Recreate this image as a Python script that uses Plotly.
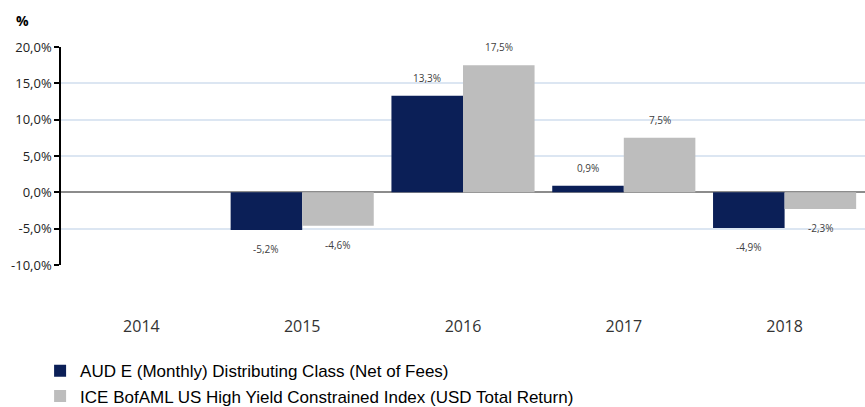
import plotly.graph_objects as go

years = ["2014", "2015", "2016", "2017", "2018"]
fund = [None, -5.2, 13.3, 0.9, -4.9]
index = [None, -4.6, 17.5, 7.5, -2.3]
fund_name = "AUD E (Monthly) Distributing Class (Net of Fees)"
index_name = "ICE BofAML US High Yield Constrained Index (USD Total Return)"
tick_vals = [-10, -5, 0, 5, 10, 15, 20]
tick_text = ["-10,0%", "-5,0%", "0,0%", "5,0%", "10,0%", "15,0%", "20,0%"]

navy = "#0b1f57"
grey = "#bdbdbd"

fig = go.Figure()
fig.add_bar(x=years, y=fund, name=fund_name, marker_color=navy, marker_line_width=0)
fig.add_bar(x=years, y=index, name=index_name, marker_color=grey, marker_line_width=0)

def fmt(v):
    return ("%.1f" % v).replace(".", ",") + "%"

for series, shift in ((fund, -36), (index, 36)):
    for i, v in enumerate(series):
        if v is None:
            continue
        fig.add_annotation(x=i, y=v, xref="x", yref="y", text=fmt(v), showarrow=False,
                           xshift=shift, yshift=18 if v >= 0 else -19,
                           font=dict(family="Open Sans, Liberation Sans", size=10, color="#404040"))

fig.add_annotation(text="<b>%</b>", xref="paper", yref="paper", x=-0.048, y=1.12,
                   xanchor="center", yanchor="middle", showarrow=False,
                   font=dict(family="Open Sans, Liberation Sans", size=14, color="#000"))

fig.update_layout(
    width=865, height=407,
    margin=dict(l=61, r=0, t=47, b=142, autoexpand=False),
    paper_bgcolor="white", plot_bgcolor="white",
    barmode="group", bargap=0.11, bargroupgap=0,
    showlegend=True,
    legend=dict(orientation="v", x=-0.026, y=-0.405, xanchor="left", yanchor="top",
                font=dict(family="Liberation Sans, Arial", size=17, color="#000"),
                itemwidth=30, tracegroupgap=0, bgcolor="rgba(0,0,0,0)"),
    xaxis=dict(type="category", range=[-0.5, 4.5], showline=False, ticks="", showgrid=False,
               tickfont=dict(family="Open Sans, Liberation Sans", size=16, color="#333"),
               ticklabelstandoff=50),
    yaxis=dict(range=[-10, 20], tickvals=tick_vals, ticktext=tick_text,
               showline=True, linecolor="#000", linewidth=1.5,
               ticks="outside", ticklen=5, tickcolor="#000", tickwidth=1.5,
               showgrid=True, gridcolor="#dce6f2", gridwidth=1.5,
               zeroline=True, zerolinecolor="#8c8c8c", zerolinewidth=2,
               tickfont=dict(family="Open Sans, Liberation Sans", size=13, color="#222")),
)

fig.write_html("out.html")
